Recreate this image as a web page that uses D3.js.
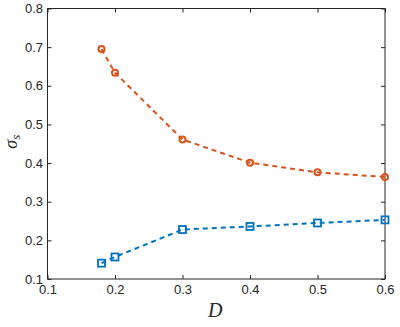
<!DOCTYPE html>
<html>
<head>
<meta charset="utf-8">
<script src="https://cdn.jsdelivr.net/npm/d3@7"></script>
<style>
  body { margin: 0; background: #fff; }
  .tick text { font-family: "Liberation Sans", Arial, sans-serif; font-size: 13px; fill: #262626; }
  .axis-label { font-family: "Liberation Serif", "DejaVu Serif", serif; font-style: italic; fill: #262626; }
</style>
</head>
<body>
<div id="chart"></div>
<script>
// data
var dValues = [0.18, 0.2, 0.3, 0.4, 0.5, 0.6];
var upperSeries = [0.695, 0.634, 0.461, 0.401, 0.376, 0.364];
var lowerSeries = [0.141, 0.157, 0.228, 0.236, 0.245, 0.253];
var xTicks = [0.1, 0.2, 0.3, 0.4, 0.5, 0.6];
var yTicks = [0.1, 0.2, 0.3, 0.4, 0.5, 0.6, 0.7, 0.8];

var W = 400, H = 327;
var margin = {top: 8.5, right: 15, bottom: 48, left: 47.5},
    width = W - margin.left - margin.right,
    height = H - margin.top - margin.bottom;

var svg = d3.select("#chart")
  .append("svg")
    .attr("width", W)
    .attr("height", H)
  .append("g")
    .attr("transform", "translate(" + margin.left + "," + margin.top + ")");

var x = d3.scaleLinear().domain([0.1, 0.6]).range([0, width]);
var y = d3.scaleLinear().domain([0.1, 0.8]).range([height, 0]);

var axisColor = "#262626";

function styleAxis(g) {
  g.select(".domain").remove();
  g.selectAll(".tick line").attr("stroke", axisColor);
}

// bottom + left axes with labels, ticks pointing inward
svg.append("g")
  .attr("transform", "translate(0," + height + ")")
  .call(d3.axisBottom(x).tickValues(xTicks).tickSize(-4).tickPadding(6).tickFormat(d3.format(".1f")))
  .call(styleAxis);

svg.append("g")
  .call(d3.axisLeft(y).tickValues(yTicks).tickSize(-4).tickPadding(4.5).tickFormat(d3.format(".1f")))
  .call(styleAxis);

// top + right ticks, no labels
svg.append("g")
  .call(d3.axisTop(x).tickValues(xTicks).tickSize(-4).tickFormat(""))
  .call(styleAxis);

svg.append("g")
  .attr("transform", "translate(" + width + ",0)")
  .call(d3.axisRight(y).tickValues(yTicks).tickSize(-4).tickFormat(""))
  .call(styleAxis);

// box
svg.append("rect")
  .attr("x", 0).attr("y", 0)
  .attr("width", width).attr("height", height)
  .attr("fill", "none")
  .attr("stroke", axisColor)
  .attr("stroke-width", 1);

var line = d3.line()
  .x(function(d) { return x(d[0]); })
  .y(function(d) { return y(d[1]); });

var orange = "#D95319", blue = "#0072BD";

var upper = dValues.map(function(d, i) { return [d, upperSeries[i]]; });
var lower = dValues.map(function(d, i) { return [d, lowerSeries[i]]; });

svg.append("path")
  .datum(upper)
  .attr("d", line)
  .attr("fill", "none")
  .attr("stroke", orange)
  .attr("stroke-width", 2)
  .attr("stroke-dasharray", "5,4");

svg.append("path")
  .datum(lower)
  .attr("d", line)
  .attr("fill", "none")
  .attr("stroke", blue)
  .attr("stroke-width", 2)
  .attr("stroke-dasharray", "5,4");

// circle markers
svg.selectAll("circle.up")
  .data(upper)
  .enter()
  .append("circle")
    .attr("class", "up")
    .attr("cx", function(d) { return x(d[0]); })
    .attr("cy", function(d) { return y(d[1]); })
    .attr("r", 3)
    .attr("fill", "none")
    .attr("stroke", orange)
    .attr("stroke-width", 2);

// square markers
svg.selectAll("rect.low")
  .data(lower)
  .enter()
  .append("rect")
    .attr("class", "low")
    .attr("x", function(d) { return x(d[0]) - 3.5; })
    .attr("y", function(d) { return y(d[1]) - 3.5; })
    .attr("width", 7)
    .attr("height", 7)
    .attr("fill", "none")
    .attr("stroke", blue)
    .attr("stroke-width", 1.8);

// axis labels
svg.append("text")
  .attr("class", "axis-label")
  .attr("x", width / 2 - 1)
  .attr("y", height + 37.5)
  .attr("text-anchor", "middle")
  .style("font-size", "20px")
  .text("D");

var yl = svg.append("text")
  .attr("class", "axis-label")
  .attr("transform", "translate(" + (-31) + "," + (height / 2 - 2) + ") rotate(-90)")
  .attr("text-anchor", "middle")
  .style("font-size", "18px");
yl.append("tspan").text("σ");
yl.append("tspan").attr("dy", 3).style("font-size", "13px").text("s");
</script>
</body>
</html>
